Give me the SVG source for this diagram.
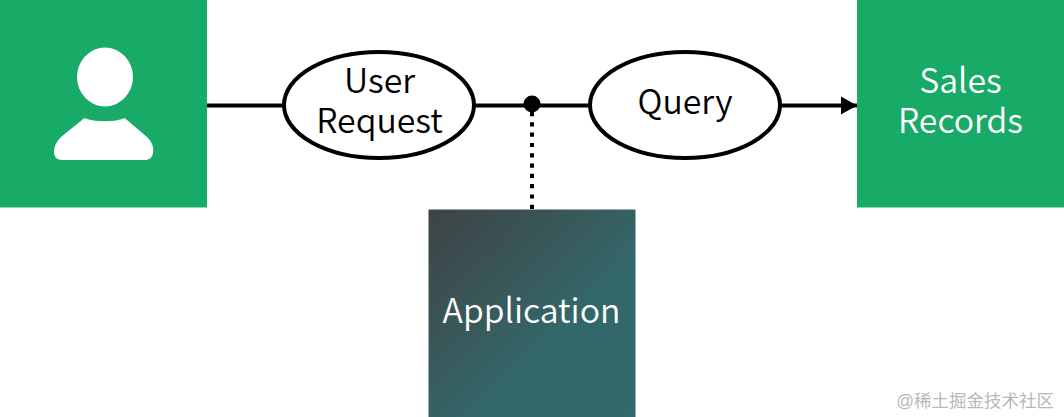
<svg xmlns="http://www.w3.org/2000/svg" width="1064" height="417" viewBox="0 0 1064 417">
<style>
.g{fill:#18ab67}
.t{font-family:"Noto Sans CJK SC","Noto Sans",sans-serif;font-size:33.800px;font-weight:350;text-anchor:middle}
.w{fill:#fff}
.k{fill:#000}
.e{fill:#fff;stroke:#000;stroke-width:4}
.c{fill:none;stroke:#000;stroke-width:4}
</style>
<defs>
<linearGradient id="app" x1="0" y1="0" x2="1" y2="1">
<stop offset="0" stop-color="#3d4345"/>
<stop offset="0.3" stop-color="#3a5456"/>
<stop offset="0.62" stop-color="#33686a"/>
<stop offset="1" stop-color="#33696b"/>
</linearGradient>
<marker id="arr" markerUnits="userSpaceOnUse" markerWidth="18" markerHeight="20" refX="16" refY="10" orient="auto">
<path d="M0 1 L16 10 L0 19 Z" fill="#000"/>
</marker>
</defs>
<g id="connectors">
<path class="c" d="M207 105.500H285"/>
<path class="c" d="M474 105.500H590"/>
<path class="c" d="M780 105.500H857" marker-end="url(#arr)"/>
<path class="c" d="M532 112V212" stroke-dasharray="4.200 6.100"/>
<circle class="k" cx="532" cy="104" r="8.500"/>
</g>
<g id="user">
<rect class="g" x="0" y="0" width="207" height="207.500"/>
<ellipse class="w" cx="105" cy="77" rx="28" ry="29.500"/>
<path class="w" d="M87 119C97 122 113 122 122 119C124 118 125 118 127 120L147 137C152 142 154 147 153 153C152 158 149 160 145 160H62C57 160 54 157 54 152C54 147 56 142 61 137L82 120C84 118 85 118 87 119Z"/>
</g>
<g id="user-request">
<ellipse class="e" cx="379" cy="105" rx="95" ry="53"/>
<text class="t k" x="379.500" y="93">User</text>
<text class="t k" x="379.500" y="133">Request</text>
</g>
<g id="query">
<ellipse class="e" cx="685" cy="105" rx="95" ry="53"/>
<text class="t k" x="685" y="114">Query</text>
</g>
<g id="sales-records">
<rect class="g" x="857" y="0" width="207" height="207.500"/>
<text class="t w" x="960.500" y="93">Sales</text>
<text class="t w" x="960.500" y="133">Records</text>
</g>
<g id="application">
<rect x="428.500" y="209.500" width="207" height="207.500" fill="url(#app)"/>
<text class="t w" x="531.500" y="323">Application</text>
</g>
<text x="1054" y="407" text-anchor="end" font-family="'Liberation Sans','Noto Sans CJK SC',sans-serif" font-size="17.500" fill="#b8b8b8">@稀土掘金技术社区</text>
</svg>
